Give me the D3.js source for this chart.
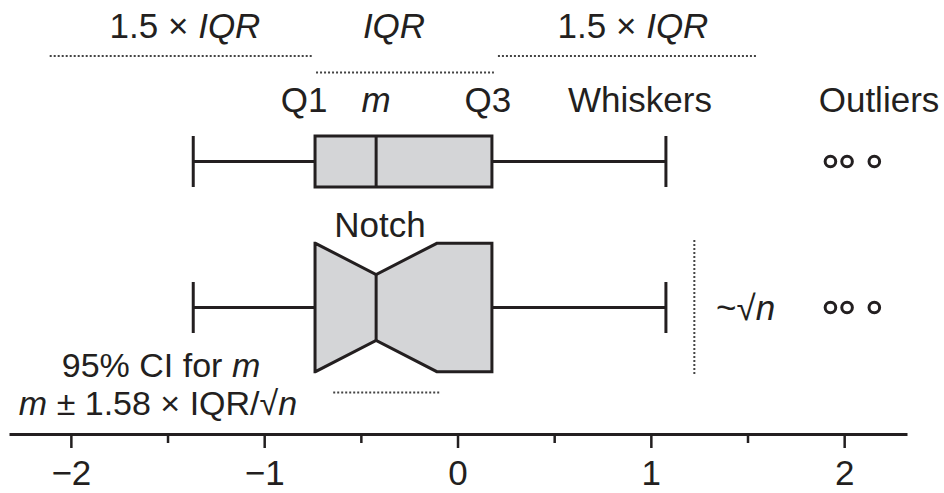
<!DOCTYPE html>
<html>
<head>
<meta charset="utf-8">
<script src="https://cdn.jsdelivr.net/npm/d3@7"></script>
<style>
  html, body { margin: 0; padding: 0; background: #fff; }
  svg { display: block; }
  text { font-family: "Liberation Sans", Arial, Helvetica, sans-serif; fill: #231f20; }
</style>
</head>
<body>
<svg id="chart" width="944" height="493"></svg>
<script>
// ---- data ----
const boxes = ["plain", "notched"];
const whiskerLow = [-1.367, -1.367];
const q1 = [-0.737, -0.737];
const median = [-0.421, -0.421];
const q3 = [0.178, 0.178];
const whiskerHigh = [1.078, 1.078];
const notchLow = [null, -0.735];
const notchHigh = [null, -0.107];
const outliers = [1.929, 2.015, 2.156];
const sqrtNMarker = 1.225;
const ciSpan = [-0.643, -0.09];
const majorTicks = [-2, -1, 0, 1, 2];
const minorTicks = [-1.5, -0.5, 0.5, 1.5];

// ---- layout ----
const svg = d3.select("#chart");
const ink = "#231f20", fill = "#d4d5d7", dotCol = "#444";
const FS = 35;

const x = d3.scaleLinear().domain([-2.32, 2.325]).range([9, 907]);
const y = d3.scalePoint().domain(boxes).range([161.5, 307.5]);
const boxHalf = { plain: 25.5, notched: 64.2 };
const waistHalf = 33;
const capHalf = 25.5;

// ---- axis ----
const axisY = 434;
const gAxis = svg.append("g").attr("transform", `translate(0,${axisY})`)
  .call(d3.axisBottom(x).tickValues(majorTicks).tickFormat(d3.format("d"))
    .tickSize(14).tickPadding(12).tickSizeOuter(0));
gAxis.select(".domain").attr("stroke", ink).attr("stroke-width", 3);
gAxis.selectAll(".tick line").attr("stroke", ink).attr("stroke-width", 2.5);
gAxis.selectAll(".tick text").attr("font-size", FS).attr("fill", ink)
  .attr("font-family", "\"Liberation Sans\", Arial, sans-serif");
const gMinor = svg.append("g").attr("transform", `translate(0,${axisY})`)
  .call(d3.axisBottom(x).tickValues(minorTicks).tickSize(9).tickFormat(""));
gMinor.select(".domain").remove();
gMinor.selectAll(".tick line").attr("stroke", ink).attr("stroke-width", 2.5);

// ---- boxes ----
boxes.forEach((b, i) => {
  const cy = y(b);
  const g = svg.append("g");
  g.append("line").attr("x1", x(whiskerLow[i])).attr("x2", x(q1[i]))
    .attr("y1", cy).attr("y2", cy).attr("stroke", ink).attr("stroke-width", 3);
  g.append("line").attr("x1", x(q3[i])).attr("x2", x(whiskerHigh[i]))
    .attr("y1", cy).attr("y2", cy).attr("stroke", ink).attr("stroke-width", 3);
  [whiskerLow[i], whiskerHigh[i]].forEach(v => {
    g.append("line").attr("x1", x(v)).attr("x2", x(v))
      .attr("y1", cy - capHalf).attr("y2", cy + capHalf)
      .attr("stroke", ink).attr("stroke-width", 3);
  });
  const hh = boxHalf[b];
  if (notchHigh[i] == null) {
    g.append("rect").attr("x", x(q1[i])).attr("y", cy - hh)
      .attr("width", x(q3[i]) - x(q1[i])).attr("height", 2 * hh)
      .attr("fill", fill).attr("stroke", ink).attr("stroke-width", 3);
    g.append("line").attr("x1", x(median[i])).attr("x2", x(median[i]))
      .attr("y1", cy - hh).attr("y2", cy + hh).attr("stroke", ink).attr("stroke-width", 3);
  } else {
    const top = cy - hh, bot = cy + hh;
    const pts = [[x(q1[i]), top]];
    if (notchLow[i] > q1[i]) pts.push([x(notchLow[i]), top]);
    pts.push([x(median[i]), cy - waistHalf]);
    pts.push([x(notchHigh[i]), top]);
    pts.push([x(q3[i]), top]);
    pts.push([x(q3[i]), bot]);
    pts.push([x(notchHigh[i]), bot]);
    pts.push([x(median[i]), cy + waistHalf]);
    if (notchLow[i] > q1[i]) pts.push([x(notchLow[i]), bot]);
    pts.push([x(q1[i]), bot]);
    g.append("path").attr("d", d3.line()(pts) + "Z")
      .attr("fill", fill).attr("stroke", ink).attr("stroke-width", 3)
      .attr("stroke-linejoin", "miter");
    g.append("line").attr("x1", x(median[i])).attr("x2", x(median[i]))
      .attr("y1", cy - waistHalf).attr("y2", cy + waistHalf)
      .attr("stroke", ink).attr("stroke-width", 3);
  }
  g.selectAll("circle.out").data(outliers).enter().append("circle")
    .attr("class", "out").attr("cx", d => x(d)).attr("cy", cy).attr("r", 5.3)
    .attr("fill", "none").attr("stroke", ink).attr("stroke-width", 3);
});

// ---- dotted annotation lines ----
const iqr = q3[0] - q1[0];
function dotted(x1, x2, y1, y2) {
  svg.append("line").attr("x1", x1).attr("x2", x2).attr("y1", y1).attr("y2", y2)
    .attr("stroke", dotCol).attr("stroke-width", 2).attr("stroke-dasharray", "2,2");
}
dotted(x(q1[0] - 1.5 * iqr), x(q1[0]) - 2, 56, 56);
dotted(x(q1[0]) + 1, x(q3[0]) + 2, 72.5, 72.5);
dotted(x(q3[0]) + 6, x(q3[0] + 1.5 * iqr), 56, 56);
dotted(x(sqrtNMarker), x(sqrtNMarker), 240, 374);
dotted(x(ciSpan[0]), x(ciSpan[1]), 392.5, 392.5);

// ---- text labels ----
function label(tx, ty, parts, anchor, fs) {
  const t = svg.append("text").attr("x", tx).attr("y", ty)
    .attr("font-size", fs || FS).attr("text-anchor", anchor || "middle");
  parts.forEach(p => {
    t.append("tspan").text(p[0]).attr("font-style", p[1] ? "italic" : "normal");
  });
  return t;
}
label(185, 38, [["1.5 \u00d7 ", false], ["IQR", true]]);
label(394, 38, [["IQR", true]]);
label(633, 38, [["1.5 \u00d7 ", false], ["IQR", true]]);

label(x(q1[0]) - 11, 112, [["Q1", false]]);
label(x(median[0]), 112, [["m", true]]);
label(x(q3[0]) - 4, 112, [["Q3", false]]);
label(640, 112, [["Whiskers", false]]);
label(879, 112, [["Outliers", false]]);

label(380, 237, [["Notch", false]]);
label(716, 320, [["~\u221a", false], ["n", true]], "start");

label(161, 377, [["95% CI for ", false], ["m", true]], "middle", 34);
label(158, 415, [["m", true], [" \u00b1 1.58 \u00d7 IQR/\u221a", false], ["n", true]], "middle", 34);
</script>
</body>
</html>
